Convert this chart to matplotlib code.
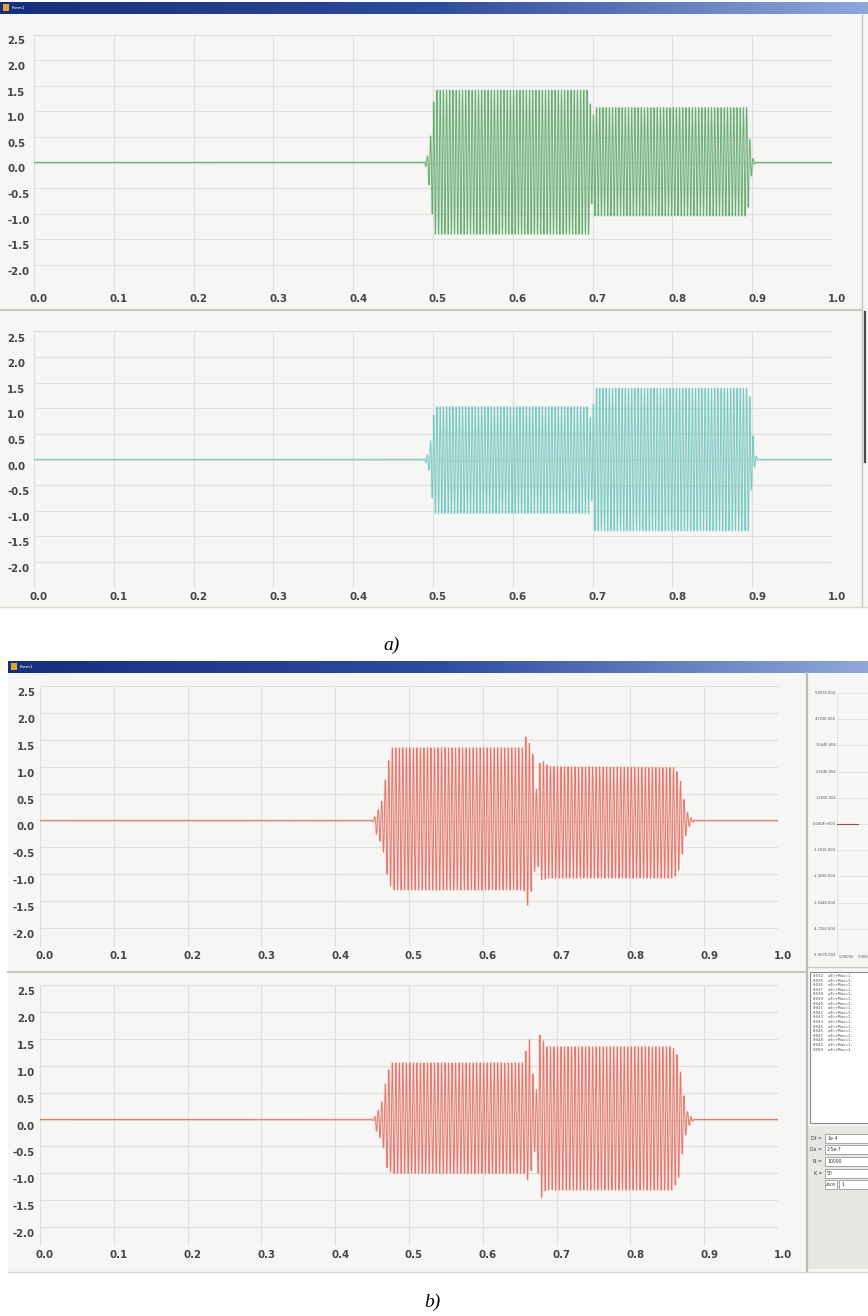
import matplotlib.pyplot as plt
import numpy as np
from matplotlib.patches import Rectangle
from matplotlib.colors import LinearSegmentedColormap

W, H = 868, 1316

x_ticks = [0.0, 0.1, 0.2, 0.3, 0.4, 0.5, 0.6, 0.7, 0.8, 0.9, 1.0]
y_ticks = [2.5, 2.0, 1.5, 1.0, 0.5, 0.0, -0.5, -1.0, -1.5, -2.0]

# pulse envelopes: knot times, crest height above zero, crest depth below zero
a1_knots = [0.000, 0.489, 0.493, 0.497, 0.500, 0.504, 0.695, 0.698, 0.700, 0.703, 0.893, 0.896, 0.899, 0.903, 1.000]
a1_up = [0.00, 0.00, 0.06, 0.30, 0.95, 1.41, 1.41, 0.60, 0.65, 1.07, 1.07, 0.45, 0.10, 0.00, 0.00]
a1_dn = [0.00, 0.00, 0.10, 0.55, 1.00, 1.40, 1.40, 0.80, 0.75, 1.04, 1.04, 0.55, 0.12, 0.00, 0.00]

a2_knots = [0.000, 0.489, 0.493, 0.497, 0.500, 0.504, 0.695, 0.698, 0.700, 0.703, 0.895, 0.898, 0.901, 0.905, 1.000]
a2_up = [0.00, 0.00, 0.05, 0.20, 0.70, 1.03, 1.03, 0.40, 0.45, 1.39, 1.39, 0.90, 0.25, 0.00, 0.00]
a2_dn = [0.00, 0.00, 0.08, 0.25, 0.75, 1.05, 1.05, 0.80, 0.80, 1.39, 1.39, 0.60, 0.20, 0.00, 0.00]

b1_knots = [0.000, 0.452, 0.458, 0.465, 0.4715, 0.478, 0.657, 0.660, 0.6635, 0.667, 0.671, 0.675,
            0.679, 0.688, 0.858, 0.865, 0.870, 0.875, 0.881, 0.886, 1.000]
b1_up = [0.00, 0.00, 0.15, 0.38, 0.98, 1.35, 1.35, 1.59, 1.30, 1.22, 0.53, 0.60,
         1.12, 1.00, 0.98, 0.85, 0.48, 0.17, 0.05, 0.00, 0.00]
b1_dn = [0.00, 0.00, 0.30, 0.45, 1.00, 1.29, 1.29, 1.57, 1.35, 1.20, 0.70, 0.75,
         1.10, 1.07, 1.07, 0.90, 0.55, 0.20, 0.05, 0.00, 0.00]

b2_knots = [0.000, 0.452, 0.458, 0.465, 0.4715, 0.478, 0.657, 0.662, 0.667, 0.671, 0.675, 0.678,
            0.684, 0.856, 0.864, 0.870, 0.875, 0.881, 0.886, 1.000]
b2_up = [0.00, 0.00, 0.12, 0.35, 0.85, 1.05, 1.05, 1.48, 0.80, 0.45, 0.60, 1.57,
         1.35, 1.35, 1.15, 0.55, 0.17, 0.05, 0.00, 0.00]
b2_dn = [0.00, 0.00, 0.25, 0.40, 0.90, 1.00, 1.00, 1.12, 0.75, 0.45, 0.70, 1.46,
         1.31, 1.31, 1.10, 0.55, 0.20, 0.05, 0.00, 0.00]

carrier_a = 250
carrier_b = 210

# side panel of window b
side_ticks = [5.907e-4, 4.725e-4, 3.544e-4, 2.363e-4, 1.181e-4, 0.0,
              -1.181e-4, -2.363e-4, -3.544e-4, -4.725e-4, -5.907e-4]
side_labels = ["5.907E-004", "4.725E-004", "3.544E-004", "2.363E-004", "1.181E-004", "0.000E+000",
               "-1.181E-004", "-2.363E-004", "-3.544E-004", "-4.725E-004", "-5.907E-004"]
side_x = [5.9, 5.9001]
side_y = [0.0, 0.0]
log_ids = list(range(34, 51))
field_names = ["Dt =", "Dx =", "N =", "K ="]
field_values = ["1e-4", "2.5e-7", "10000", "50"]
extra_values = ["4500", "1"]

BG = "#f6f7f4"
GRID = "#dfe0dc"
TXT = "#454545"


def build_wave(t, freq, knots, up, dn):
    phase = 2 * np.pi * freq * t
    half = np.floor(phase / np.pi).astype(int)
    env = np.where(half % 2 == 0, np.interp(t, knots, up), np.interp(t, knots, dn))
    starts = np.flatnonzero(np.r_[True, np.diff(half) != 0])
    crest = np.maximum.reduceat(env, starts)
    counts = np.diff(np.r_[starts, len(t)])
    return np.sin(phase) * np.repeat(crest, counts)


def px_rect(l, t, r, b):
    return [l / W, 1 - b / H, (r - l) / W, (b - t) / H]


fig = plt.figure(figsize=(W / 100, H / 100), dpi=100)
fig.patch.set_facecolor("white")

bg = fig.add_axes([0, 0, 1, 1])
bg.set_xlim(0, W)
bg.set_ylim(H, 0)
bg.axis("off")

title_cmap = LinearSegmentedColormap.from_list("bar", ["#142f7c", "#2d4c9c", "#8fa8d8"])
grad = np.linspace(0, 1, 256).reshape(1, -1)

# window a
bg.add_patch(Rectangle((0, 14), 868, 593, fc=BG, ec="none"))
bg.imshow(grad, cmap=title_cmap, extent=(0, 868, 14, 2), aspect="auto")
bg.add_patch(Rectangle((3, 4), 6, 7, fc="#e8a030", ec="none"))
bg.text(12, 8, "Form1", color="white", fontsize=3.2, va="center")
bg.plot([0, 862], [310, 310], color="#c8c9c3", lw=1.5)
bg.plot([862, 862], [14, 607], color="#c8c9c3", lw=1.0)
bg.plot([864.5, 864.5], [312, 462], color="#4a4a4a", lw=1.6)
bg.plot([0, 868], [607, 607], color="#d8d9d4", lw=1.0)

# window b
bg.add_patch(Rectangle((8, 673), 860, 599, fc=BG, ec="none"))
bg.imshow(grad, cmap=title_cmap, extent=(8, 868, 673, 661), aspect="auto")
bg.add_patch(Rectangle((11, 663), 6, 7, fc="#e8a030", ec="none"))
bg.text(20, 667, "Form1", color="white", fontsize=3.2, va="center")
bg.plot([8, 806], [972, 972], color="#c8c9c3", lw=1.5)
bg.plot([806.5, 806.5], [673, 1272], color="#b9bab4", lw=1.6)
bg.plot([806, 868], [967, 967], color="#c8c9c3", lw=1.0)
bg.plot([8, 868], [1272, 1272], color="#d8d9d4", lw=1.0)
bg.add_patch(Rectangle((810, 972), 62, 151, fc="white", ec="#8a8a8a", lw=0.8))
bg.add_patch(Rectangle((807.5, 1126), 61, 143, fc="#e7e7e3", ec="none"))

for i, n in enumerate(log_ids):
    bg.text(813, 976 + i * 4.6, f"{n:04d}  aErrMax=1.", fontsize=3.0, color="#555555",
            family="DejaVu Sans Mono", va="center", clip_on=True)

for i, (name, val) in enumerate(zip(field_names, field_values)):
    yy = 1138 + i * 11.7
    bg.text(822, yy, name, fontsize=3.3, color="#333333", ha="right", va="center")
    bg.add_patch(Rectangle((825, yy - 4.5), 50, 9, fc="white", ec="#9a9a9a", lw=0.6))
    bg.text(827, yy, val, fontsize=3.3, color="#333333", va="center")
yy = 1138 + 4 * 11.7
bg.add_patch(Rectangle((825, yy - 4.5), 12, 9, fc="white", ec="#9a9a9a", lw=0.6))
bg.text(826, yy, extra_values[0], fontsize=3.0, color="#333333", va="center")
bg.add_patch(Rectangle((839, yy - 4.5), 35, 9, fc="white", ec="#9a9a9a", lw=0.6))
bg.text(841, yy, extra_values[1], fontsize=3.3, color="#333333", va="center")

bg.text(392, 645, "a)", fontsize=14, style="italic", family="Liberation Serif",
        ha="center", va="center", color="black")
bg.text(432, 1302, "b)", fontsize=14, style="italic", family="Liberation Serif",
        ha="center", va="center", color="black")

t = np.linspace(0, 1, 80001)
traces = [
    # left, right, y of 2.5, px per unit, bottom value, wave, colour, label x, label align
    (34, 832, 34.5, 51.2, -2.5, build_wave(t, carrier_a, a1_knots, a1_up, a1_dn), "#5aa566", 7, "left"),
    (34, 832, 331.5, 51.2, -2.5, build_wave(t, carrier_a, a2_knots, a2_up, a2_dn), "#6cc5be", 7, "left"),
    (40, 778, 686.0, 53.8, -2.35, build_wave(t, carrier_b, b1_knots, b1_up, b1_dn), "#e26a60", 35, "right"),
    (40, 778, 985.0, 53.8, -2.35, build_wave(t, carrier_b, b2_knots, b2_up, b2_dn), "#e26a60", 35, "right"),
]

for left, right, top, scale, ybot, wave, color, lab_x, lab_ha in traces:
    bottom = top + (2.5 - ybot) * scale
    ax = fig.add_axes(px_rect(left, top, right, bottom))
    ax.set_facecolor("none")
    ax.set_xlim(0, 1)
    ax.set_ylim(ybot, 2.5)
    for s in ax.spines.values():
        s.set_visible(False)
    ax.set_xticks([])
    ax.set_yticks([])
    for v in y_ticks:
        ax.axhline(v, color=GRID, lw=0.8, zorder=0)
    for v in x_ticks:
        ax.axvline(v, color=GRID, lw=0.8, zorder=0)
    # soft wide pass underneath gives the tinted body of the dense trace
    ax.plot(t, wave, color=color, lw=2.0, alpha=0.14, zorder=1)
    ax.plot(t, wave, color=color, lw=0.65, alpha=0.9, zorder=2)

    for v in y_ticks:
        bg.text(lab_x, top + (2.5 - v) * scale + 7, f"{v:.1f}", fontsize=7.4, color=TXT,
                ha=lab_ha, va="center", fontweight="semibold")
    for v in x_ticks:
        bg.text(left + v * (right - left) + 5, bottom + 9, f"{v:.1f}", fontsize=7.4, color=TXT,
                ha="center", va="center", fontweight="semibold")

# small monitor chart in the side panel
side = fig.add_axes(px_rect(837, 693, 900, 955))
side.set_facecolor("none")
side.set_ylim(side_ticks[-1], side_ticks[0])
side.set_xlim(5.9, 5.9003)
for s in side.spines.values():
    s.set_visible(False)
side.set_xticks([])
side.set_yticks([])
for v in side_ticks:
    side.axhline(v, color=GRID, lw=0.6, zorder=0)
side.axvline(5.9, color=GRID, lw=0.6, zorder=0)
side.plot(side_x, side_y, color="#b03a5a", lw=0.8)
for v, lab in zip(side_ticks, side_labels):
    yy = 693 + (side_ticks[0] - v) / (side_ticks[0] - side_ticks[-1]) * (955 - 693)
    bg.text(836, yy, lab, fontsize=2.6, color="#555555", ha="right", va="center")
bg.text(846, 957, "5.90000", fontsize=2.6, color="#555555", ha="center", va="center")
bg.text(864, 957, "5.9000", fontsize=2.6, color="#555555", ha="center", va="center")

fig.savefig("out.png", dpi=100, facecolor="white")
